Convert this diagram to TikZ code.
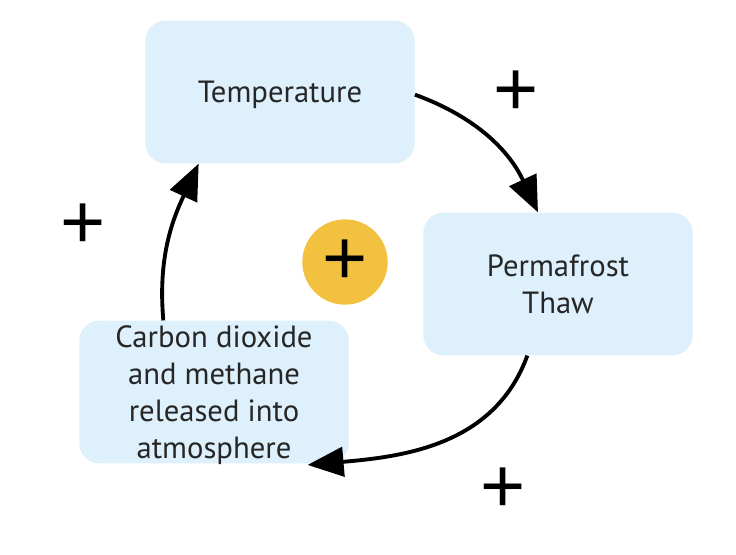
\documentclass[tikz,border=0pt]{standalone}
\usepackage{fontspec}
\setmainfont{PT Sans}
\newfontfamily\signfont{Liberation Sans}
\usetikzlibrary{arrows.meta}
\definecolor{boxblue}{HTML}{DDF0FB}
\definecolor{loopgold}{HTML}{F2C13F}
\tikzset{
  box/.style={rectangle, rounded corners=15pt, fill=boxblue, minimum width=202pt, minimum height=107pt, align=center, font=\fontsize{23}{27.8}\selectfont, text=black!85},
  link/.style={line width=2.9pt, -{Triangle[length=27pt,width=22pt]}},
  sign/.style={font=\signfont\fontsize{58}{58}\selectfont, inner sep=0pt},
}
\begin{document}
\begin{tikzpicture}[x=0.75pt,y=-0.75pt]
\useasboundingbox (0,0) rectangle (736,554);
\node[box, text depth=0pt] (temp) at (280,92) {Temperature};
\node[box] (perm) at (558,284) {Permafrost\\Thaw};
\node[box, text depth=0pt] (carb) at (214,392) {Carbon dioxide\\and methane\\released into\\atmosphere};
\node[circle, fill=loopgold, minimum size=64pt, inner sep=0pt] (loop) at (345,262) {};
\node[sign] (s0) at (loop) {+};
\node[sign] (s1) at (516,93) {+};
\node[sign] (s2) at (83,226) {+};
\node[sign] (s3) at (503,490) {+};
\draw[link] ([yshift=-2pt]temp.east) to[out=-20,in=115] ([xshift=-15pt]perm.north);
\draw[link] ([xshift=-23pt]perm.south) to[out=-110,in=5] ([xshift=-31pt,yshift=-1pt]carb.south east);
\draw[link] ([xshift=-38pt]carb.north) to[out=95,in=-115] ([xshift=-61pt]temp.south);
\end{tikzpicture}
\end{document}
